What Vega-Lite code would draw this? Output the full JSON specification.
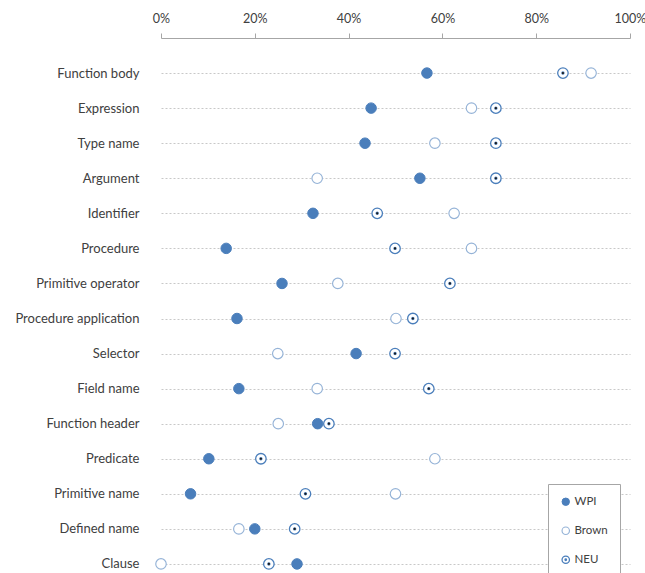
{
  "$schema": "https://vega.github.io/schema/vega-lite/v6.json",
  "autosize": {"type": "none"},
  "padding": {"left": 161, "top": 38, "right": 15, "bottom": 0},
  "width": 469,
  "height": 561,
  "config": {
    "view": {"stroke": null},
    "font": "Lato",
    "axis": {"labelFont": "Lato", "labelColor": "#404040", "labelFontSize": 13}
  },
  "data": {
    "values": [
      {"category": "Function body", "series": "WPI", "value": 0.567},
      {"category": "Function body", "series": "Brown", "value": 0.917},
      {"category": "Function body", "series": "NEU", "value": 0.857},
      {"category": "Expression", "series": "WPI", "value": 0.448},
      {"category": "Expression", "series": "Brown", "value": 0.662},
      {"category": "Expression", "series": "NEU", "value": 0.714},
      {"category": "Type name", "series": "WPI", "value": 0.435},
      {"category": "Type name", "series": "Brown", "value": 0.584},
      {"category": "Type name", "series": "NEU", "value": 0.714},
      {"category": "Argument", "series": "WPI", "value": 0.552},
      {"category": "Argument", "series": "Brown", "value": 0.333},
      {"category": "Argument", "series": "NEU", "value": 0.714},
      {"category": "Identifier", "series": "WPI", "value": 0.324},
      {"category": "Identifier", "series": "Brown", "value": 0.625},
      {"category": "Identifier", "series": "NEU", "value": 0.461},
      {"category": "Procedure", "series": "WPI", "value": 0.139},
      {"category": "Procedure", "series": "Brown", "value": 0.662},
      {"category": "Procedure", "series": "NEU", "value": 0.499},
      {"category": "Primitive operator", "series": "WPI", "value": 0.258},
      {"category": "Primitive operator", "series": "Brown", "value": 0.377},
      {"category": "Primitive operator", "series": "NEU", "value": 0.616},
      {"category": "Procedure application", "series": "WPI", "value": 0.162},
      {"category": "Procedure application", "series": "Brown", "value": 0.501},
      {"category": "Procedure application", "series": "NEU", "value": 0.537},
      {"category": "Selector", "series": "WPI", "value": 0.416},
      {"category": "Selector", "series": "Brown", "value": 0.249},
      {"category": "Selector", "series": "NEU", "value": 0.499},
      {"category": "Field name", "series": "WPI", "value": 0.166},
      {"category": "Field name", "series": "Brown", "value": 0.333},
      {"category": "Field name", "series": "NEU", "value": 0.571},
      {"category": "Function header", "series": "WPI", "value": 0.334},
      {"category": "Function header", "series": "Brown", "value": 0.25},
      {"category": "Function header", "series": "NEU", "value": 0.358},
      {"category": "Predicate", "series": "WPI", "value": 0.102},
      {"category": "Predicate", "series": "Brown", "value": 0.584},
      {"category": "Predicate", "series": "NEU", "value": 0.213},
      {"category": "Primitive name", "series": "WPI", "value": 0.063},
      {"category": "Primitive name", "series": "Brown", "value": 0.5},
      {"category": "Primitive name", "series": "NEU", "value": 0.308},
      {"category": "Defined name", "series": "WPI", "value": 0.2},
      {"category": "Defined name", "series": "Brown", "value": 0.166},
      {"category": "Defined name", "series": "NEU", "value": 0.285},
      {"category": "Clause", "series": "WPI", "value": 0.29},
      {"category": "Clause", "series": "Brown", "value": 0.0},
      {"category": "Clause", "series": "NEU", "value": 0.23}
    ]
  },
  "encoding": {
    "y": {
      "field": "category",
      "type": "nominal",
      "sort": ["Function body", "Expression", "Type name", "Argument", "Identifier", "Procedure", "Primitive operator", "Procedure application", "Selector", "Field name", "Function header", "Predicate", "Primitive name", "Defined name", "Clause"],
      "scale": {"type": "point", "padding": 1.08},
      "axis": {
        "title": null,
        "domain": false,
        "ticks": false,
        "labelPadding": 22,
        "grid": true,
        "gridColor": "#C8C8C8",
        "gridDash": [2, 2],
        "gridWidth": 1
      }
    },
    "x": {
      "field": "value",
      "type": "quantitative",
      "scale": {"domain": [0, 1], "nice": false, "zero": true},
      "axis": {
        "orient": "top",
        "title": null,
        "format": ".0%",
        "values": [0, 0.2, 0.4, 0.6, 0.8, 1],
        "grid": false,
        "domainColor": "#A6A6A6",
        "tickColor": "#A6A6A6",
        "tickSize": 5,
        "labelPadding": 8,
        "labelFontSize": 12.5,
        "labelFlush": false
      }
    }
  },
  "layer": [
    {
      "mark": {"type": "point", "filled": false, "size": 110, "opacity": 1},
      "encoding": {
        "fill": {
          "field": "series",
          "type": "nominal",
          "scale": {"domain": ["WPI", "Brown", "NEU"], "range": ["#4A7EBB", "#FFFFFF", "#FFFFFF"]},
          "legend": {
            "title": null,
            "orient": "none",
            "legendX": 387,
            "legendY": 446,
            "padding": 12,
            "rowPadding": 16,
            "fillColor": "#FFFFFF",
            "strokeColor": "#A6A6A6",
            "symbolSize": 55,
            "symbolStrokeWidth": 1.2,
            "labelFont": "Lato",
            "labelFontSize": 11.5,
            "labelColor": "#404040",
            "labelOffset": 3,
            "cornerRadius": 0
          }
        },
        "stroke": {
          "field": "series",
          "type": "nominal",
          "scale": {"domain": ["WPI", "Brown", "NEU"], "range": ["#4A7EBB", "#95B3D7", "#4A7EBB"]}
        },
        "shape": {
          "field": "series",
          "type": "nominal",
          "scale": {"domain": ["WPI", "Brown", "NEU"], "range": ["circle", "circle", "M-1,0A1,1 0 1,0 1,0A1,1 0 1,0 -1,0ZM-0.2,0A0.2,0.2 0 1,0 0.2,0A0.2,0.2 0 1,0 -0.2,0Z"]}
        },
        "strokeWidth": {
          "field": "series",
          "type": "nominal",
          "scale": {"domain": ["WPI", "Brown", "NEU"], "range": [1, 1.3, 2.2]},
          "legend": null
        },
        "order": {"field": "series", "sort": "descending"}
      }
    },
    {
      "transform": [{"filter": "datum.series === 'NEU'"}],
      "mark": {"type": "circle", "size": 5, "color": "#1a1a1a", "opacity": 1},
      "encoding": {}
    }
  ]
}
